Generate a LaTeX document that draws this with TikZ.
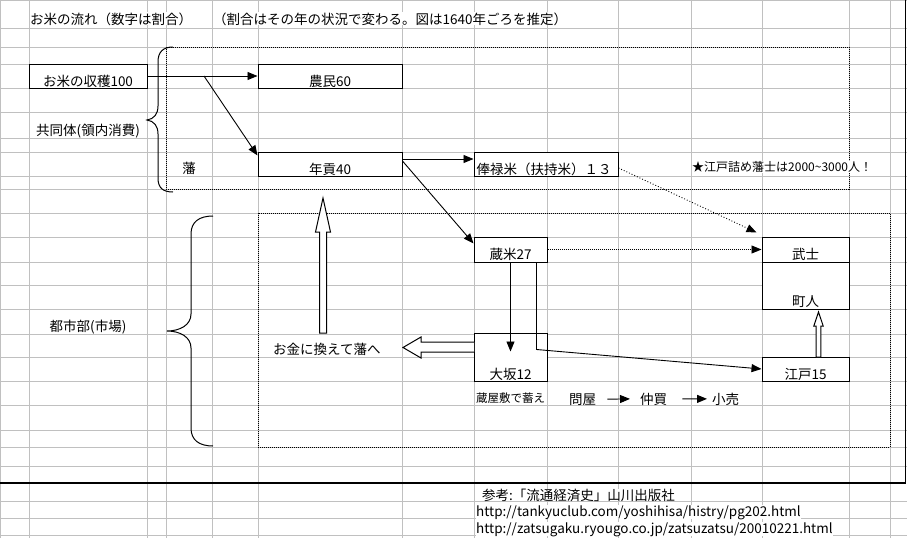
\documentclass[tikz,border=0pt]{standalone}
\usepackage{fontspec}
\setmainfont{Noto Sans CJK JP}
\usetikzlibrary{arrows.meta}
\definecolor{gridgray}{HTML}{C0C0C0}

\begin{document}
\begin{tikzpicture}[x=1pt,y=-1pt,
  every node/.style={font=\fontsize{13.5}{16}\selectfont,inner sep=0pt},
  cellbox/.style={draw,line width=1pt,fill=white,minimum height=24pt,
    text height=20pt,text depth=0pt},
  txt/.style={anchor=base west,fill=white},
  small/.style={font=\fontsize{12}{14}\selectfont},
  gridline/.style={gridgray,line width=1pt},
  area/.style={line width=1pt,dash pattern=on 1pt off 1pt},
  flow/.style={-{Triangle[length=10pt,width=8pt]},line width=.9pt},
  dotflow/.style={flow,dash pattern=on 1pt off 1pt},
  brace/.style={line width=1pt},
  hollow/.style={draw,fill=white,line width=1pt}]
  \useasboundingbox (0,0) rectangle (907,538);
  % sheet grid
  \foreach \gx in {0.5,29,147,166,212,258,402,474,547,618,691,762,849,890}
    \draw[gridline] (\gx,0) -- (\gx,538);
  \foreach \gy in {0.5,28,47,64,88,112,138,152,176,189,213,237,262,285,309,
      334,357,381,405,430,447,466,501,518,535}
    \draw[gridline] (0,\gy) -- (907,\gy);
  \draw[line width=1.5pt] (0,483) -- (905.5,483) -- (905.5,0);
  % regions
  \draw[area] (166,47) rectangle (849,189);
  \draw[area] (258,213) rectangle (890,447);
  \draw[brace] (173,47) .. controls (163,47) and (158,52) .. (158,62) -- (158,106)
    .. controls (158,114) and (154,119) .. (147,120)
    .. controls (154,121) and (158,126) .. (158,134) -- (158,178)
    .. controls (158,188) and (163,192) .. (173,192);
  \draw[brace] (213,216) .. controls (199,216) and (191,222) .. (191,234) -- (191,314)
    .. controls (191,325) and (180,331) .. (167,331)
    .. controls (180,331) and (191,337) .. (191,348) -- (191,428)
    .. controls (191,440) and (199,446) .. (213,446);
  % boxes
  \node[cellbox,minimum width=118pt] (harvest) at (88,76) {お米の収穫100};
  \node[cellbox,minimum width=144pt] (farmer) at (330,76) {農民60};
  \node[cellbox,minimum width=144pt] (nengu) at (330,164) {年貢40};
  \node[cellbox,text width=139pt,inner xsep=2.5pt,align=left] (hiroku)
    at (546,164) {俸禄米（扶持米）１３};
  \node[cellbox,minimum width=73pt,minimum height=25pt] (kuramai) at (510.5,249.5) {蔵米27};
  \node[cellbox,minimum width=73pt,minimum height=48pt,text height=44pt] (osaka)
    at (510.5,357) {大坂12};
  \node[cellbox,minimum width=87pt,minimum height=25pt] (bushi) at (805.5,249.5) {武士};
  \node[cellbox,minimum width=87pt,minimum height=47pt,text height=41pt] (chonin)
    at (805.5,285.5) {町人};
  \node[cellbox,minimum width=87pt] (edo) at (805.5,369) {江戸15};
  % texts
  \node[txt] (title) at (30,24) {お米の流れ（数字は割合）};
  \node[txt] (remark) at (213,24) {（割合はその年の状況で変わる。図は1640年ごろを推定）};
  \node[anchor=base,fill=white] (kyodo) at (88,135) {共同体(領内消費)};
  \node[anchor=base,fill=white] (toshi) at (88,331) {都市部(市場)};
  \node[anchor=base,fill=white] (han) at (189,173) {藩};
  \node[txt,small] (edozume) at (692,171.5) {★江戸詰め藩士は2000\textasciitilde3000人！};
  \node[txt] (money) at (273,354) {お金に換えて藩へ};
  \node[txt,font=\fontsize{11.5}{13}\selectfont] (store) at (476,402) {蔵屋敷で蓄え};
  \node[txt] (tonya) at (569,404) {問屋};
  \node[txt] (nakagai) at (640,404) {仲買};
  \node[txt] (kouri) at (712,404) {小売};
  \node[txt] (source) at (482,500) {参考:「流通経済史」山川出版社};
  \node[txt] (url1) at (476,516) {http://tankyuclub.com/yoshihisa/histry/pg202.html};
  \node[txt] (url2) at (476,533) {http://zatsugaku.ryougo.co.jp/zatsuzatsu/20010221.html};
  % flows
  \coordinate (split) at (204,76);
  \draw[flow] (harvest.east) -- (farmer.west);
  \draw[flow] (split) -- ([yshift=-4]nengu.north west);
  \draw[flow] ([yshift=5]nengu.east) -- ([yshift=5]hiroku.west);
  \draw[flow] ([yshift=3]nengu.east) -- ([yshift=-7]kuramai.north west);
  \draw[flow,dotted] ([yshift=-4]hiroku.east) -- ([xshift=-5,yshift=4]bushi.north west);
  \draw[dotflow] (kuramai.east) -- (bushi.west);
  \draw[flow] (kuramai.south) -- ([yshift=-19]osaka.north);
  \draw[flow] ([xshift=-11]kuramai.south east) -- ++(0,87) -- (edo.west);
  \draw[flow] ([xshift=11]tonya.east) -- ([xshift=-10]nakagai.west);
  \draw[flow] ([xshift=15]nakagai.east) -- ([xshift=-5]kouri.west);
  % block arrows
  \draw[hollow] (319.5,333) -- (319.5,232) -- (315.5,232) -- (323,198)
    -- (330.5,232) -- (326.5,232) -- (326.5,333) -- cycle;
  \draw[hollow] (474,342) -- (421,342) -- (421,337) -- (403,347.5)
    -- (421,358) -- (421,352) -- (474,352);
  \draw[hollow] (816.2,357) -- (816.2,326) -- (813.8,326) -- (818.5,312)
    -- (823.2,326) -- (820.8,326) -- (820.8,357) -- cycle;
\end{tikzpicture}
\end{document}
